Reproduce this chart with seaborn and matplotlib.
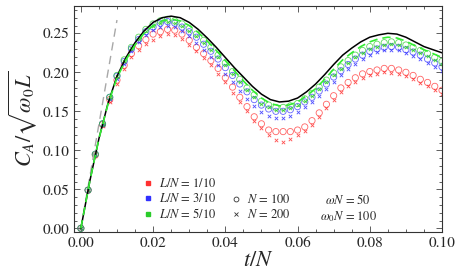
import matplotlib
matplotlib.use('Agg')
import matplotlib.pyplot as plt
from matplotlib.lines import Line2D
from matplotlib.ticker import MultipleLocator
import numpy as np
import pandas as pd
import seaborn as sns

# sampled times (points every 0.002, curves every 0.0025)
t_pts = np.round(np.arange(0, 0.1001, 0.002), 4)
t_line = np.round(np.arange(0, 0.1001, 0.0025), 4)

# N = 100 (circles) and N = 200 (crosses) for L/N = 1/10, 3/10, 5/10
red_circ = [0, 0.049, 0.094, 0.133, 0.165, 0.190, 0.209, 0.224, 0.234, 0.242, 0.249,
            0.252, 0.255, 0.254, 0.249, 0.241, 0.232, 0.224, 0.215, 0.205, 0.193,
            0.181, 0.168, 0.156, 0.143, 0.134, 0.126, 0.124, 0.124, 0.124, 0.126,
            0.130, 0.138, 0.148, 0.159, 0.170, 0.180, 0.187, 0.193, 0.198, 0.201,
            0.203, 0.205, 0.205, 0.203, 0.200, 0.196, 0.191, 0.187, 0.182, 0.177]
red_x = [0, 0.048, 0.093, 0.131, 0.162, 0.185, 0.204, 0.219, 0.229, 0.236, 0.242,
         0.247, 0.249, 0.248, 0.243, 0.235, 0.227, 0.218, 0.209, 0.198, 0.187,
         0.174, 0.162, 0.150, 0.138, 0.129, 0.120, 0.113, 0.111, 0.114, 0.119,
         0.125, 0.133, 0.143, 0.154, 0.165, 0.175, 0.182, 0.188, 0.193, 0.196,
         0.198, 0.200, 0.199, 0.198, 0.195, 0.191, 0.186, 0.182, 0.177, 0.172]
blue_circ = [0, 0.049, 0.095, 0.134, 0.168, 0.195, 0.214, 0.230, 0.242, 0.252, 0.258,
             0.263, 0.265, 0.263, 0.258, 0.252, 0.245, 0.236, 0.227, 0.217, 0.206,
             0.196, 0.185, 0.175, 0.165, 0.158, 0.153, 0.150, 0.150, 0.152, 0.156,
             0.162, 0.168, 0.176, 0.185, 0.194, 0.202, 0.210, 0.217, 0.222, 0.227,
             0.230, 0.232, 0.233, 0.232, 0.229, 0.226, 0.222, 0.217, 0.212, 0.207]
blue_x = [0, 0.049, 0.094, 0.133, 0.166, 0.192, 0.211, 0.227, 0.239, 0.248, 0.254,
          0.258, 0.260, 0.258, 0.253, 0.246, 0.238, 0.229, 0.219, 0.209, 0.198,
          0.187, 0.176, 0.166, 0.157, 0.149, 0.144, 0.142, 0.142, 0.144, 0.149,
          0.155, 0.162, 0.170, 0.179, 0.188, 0.196, 0.204, 0.211, 0.217, 0.222,
          0.226, 0.228, 0.229, 0.228, 0.225, 0.221, 0.217, 0.212, 0.207, 0.202]
green_circ = [0, 0.049, 0.095, 0.134, 0.168, 0.196, 0.216, 0.232, 0.245, 0.255, 0.262,
              0.266, 0.268, 0.266, 0.262, 0.256, 0.249, 0.241, 0.232, 0.222, 0.212,
              0.201, 0.191, 0.180, 0.171, 0.163, 0.158, 0.155, 0.155, 0.157, 0.160,
              0.166, 0.173, 0.181, 0.190, 0.199, 0.207, 0.215, 0.222, 0.228, 0.233,
              0.236, 0.238, 0.239, 0.238, 0.235, 0.232, 0.228, 0.224, 0.219, 0.214]
green_x = [0, 0.049, 0.095, 0.134, 0.168, 0.195, 0.215, 0.231, 0.243, 0.253, 0.259,
           0.263, 0.265, 0.263, 0.259, 0.253, 0.246, 0.238, 0.229, 0.219, 0.209,
           0.198, 0.188, 0.177, 0.168, 0.160, 0.155, 0.152, 0.152, 0.154, 0.158,
           0.163, 0.170, 0.178, 0.187, 0.196, 0.204, 0.212, 0.219, 0.225, 0.230,
           0.233, 0.235, 0.236, 0.235, 0.232, 0.229, 0.225, 0.221, 0.216, 0.211]

# continuum curves
black_curve = [0, 0.061, 0.115, 0.160, 0.195, 0.219, 0.238, 0.253, 0.264, 0.270, 0.272,
               0.270, 0.264, 0.255, 0.244, 0.232, 0.219, 0.206, 0.194, 0.182, 0.172,
               0.165, 0.162, 0.163, 0.167, 0.175, 0.185, 0.197, 0.210, 0.222, 0.231,
               0.239, 0.245, 0.248, 0.250, 0.249, 0.245, 0.239, 0.233, 0.229, 0.225]
green_curve = [0, 0.061, 0.115, 0.159, 0.193, 0.216, 0.235, 0.250, 0.260, 0.266, 0.268,
               0.266, 0.260, 0.251, 0.240, 0.228, 0.215, 0.202, 0.189, 0.177, 0.167,
               0.160, 0.157, 0.158, 0.162, 0.170, 0.179, 0.191, 0.204, 0.216, 0.225,
               0.233, 0.239, 0.243, 0.245, 0.244, 0.240, 0.234, 0.229, 0.224, 0.219]
# early-time slope
slope_t = [0, 0.01]
slope_c = [0, 0.267]

RED, BLUE, GREEN = '#ff3030', '#3030ff', '#2acc2a'

sns.set_theme(style='ticks')
plt.rcParams['font.family'] = ['STIXGeneral', 'DejaVu Serif']
plt.rcParams['mathtext.fontset'] = 'stix'

fig = plt.figure(figsize=(4.59, 2.79), dpi=100)
ax = fig.add_axes([74 / 459, 1 - 232 / 279, 368 / 459, 226 / 279])

sns.lineplot(x=slope_t, y=slope_c, ax=ax, color='#a8a8a8', lw=1.0,
             linestyle=(0, (6, 4)))
sns.lineplot(x=t_line, y=black_curve, ax=ax, color='black', lw=1.1)
sns.lineplot(x=t_line, y=green_curve, ax=ax, color='#33ee33', lw=1.2,
             linestyle=(0, (5, 3)))

series = [(red_circ, RED, 'o'), (red_x, RED, 'x'),
          (blue_circ, BLUE, 'o'), (blue_x, BLUE, 'x'),
          (green_circ, GREEN, 'o'), (green_x, GREEN, 'x')]
for vals, col, mk in series:
    df = pd.DataFrame({'t': t_pts, 'c': vals})
    if mk == 'o':
        sns.scatterplot(data=df, x='t', y='c', ax=ax, marker='o', s=20,
                        facecolors='none', edgecolor=col, linewidth=0.6, alpha=0.75)
    else:
        sns.scatterplot(data=df, x='t', y='c', ax=ax, marker='x', s=6,
                        color=col, linewidth=0.6, alpha=0.85)

ax.set_xlim(-0.0019, 0.1)
ax.set_ylim(-0.0047, 0.285)
ax.xaxis.set_major_locator(MultipleLocator(0.02))
ax.xaxis.set_minor_locator(MultipleLocator(0.005))
ax.yaxis.set_major_locator(MultipleLocator(0.05))
ax.yaxis.set_minor_locator(MultipleLocator(0.01))
ax.xaxis.set_major_formatter(plt.FuncFormatter(lambda v, p: f'{v:.2f}'))
ax.yaxis.set_major_formatter(plt.FuncFormatter(lambda v, p: f'{v:.2f}'))
ax.tick_params(which='both', direction='in', top=True, right=True, labelsize=11,
               color='#444444', width=0.6)
ax.tick_params(which='major', length=4)
ax.tick_params(which='minor', length=2)
for s in ax.spines.values():
    s.set_linewidth(0.8)
    s.set_color('#333333')

ax.set_xlabel(r'$t/N$', fontsize=16, labelpad=1)
ax.set_ylabel(r'$C_A/\sqrt{\omega_0 L}$', fontsize=16, labelpad=2)

# legends
h_col = [Line2D([], [], ls='', marker='s', ms=3, color=c) for c in (RED, BLUE, GREEN)]
leg1 = ax.legend(h_col, [r'$L/N$ = 1/10', r'$L/N$ = 3/10', r'$L/N$ = 5/10'],
                 loc='upper left', bbox_to_anchor=(0.17, 0.27), frameon=False,
                 fontsize=9, handlelength=0.8, handletextpad=0.5, labelspacing=0.15,
                 borderpad=0)
ax.add_artist(leg1)
h_n = [Line2D([], [], ls='', marker='o', ms=3.5, mfc='none', mec='#333333', mew=0.6),
       Line2D([], [], ls='', marker='x', ms=2.5, color='#333333', mew=0.6)]
ax.legend(h_n, [r'$N$ = 100', r'$N$ = 200'], loc='upper left',
          bbox_to_anchor=(0.41, 0.199), frameon=False, fontsize=9,
          handlelength=0.8, handletextpad=0.5, labelspacing=0.15, borderpad=0)
ax.text(0.745, 0.14, r'$\omega N$ = 50', transform=ax.transAxes, ha='center',
        va='center', fontsize=9)
ax.text(0.745, 0.07, r'$\omega_0 N$ = 100', transform=ax.transAxes, ha='center',
        va='center', fontsize=9)

fig.savefig('out.png', dpi=100)
